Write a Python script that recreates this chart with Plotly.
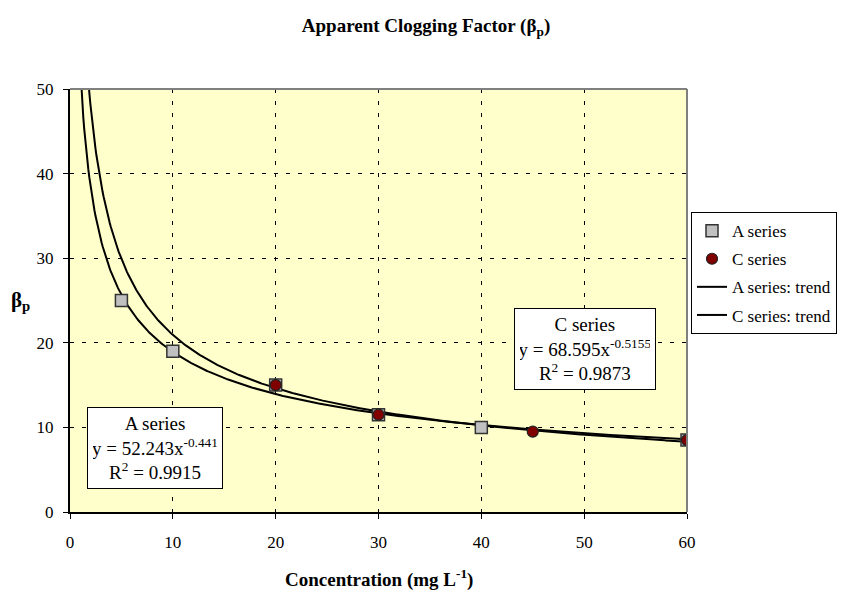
import numpy as np
import plotly.graph_objects as go

# Data
a_x = [5, 10, 20, 30, 40, 60]
a_y = [25.0, 19.0, 15.0, 11.5, 10.0, 8.5]
c_x = [20, 30, 45, 60]
c_y = [15.0, 11.5, 9.5, 8.5]
# Power trendline coefficients (y = k * x^p) as stated on the chart
a_k, a_p, a_r2 = 52.243, -0.441, 0.9915
c_k, c_p, c_r2 = 68.595, -0.5155, 0.9873

x_ticks = [0, 10, 20, 30, 40, 50, 60]
y_ticks = [0, 10, 20, 30, 40, 50]

FONT = "Liberation Serif, Times New Roman, serif"

xs = np.linspace(0.9, 60, 600)
a_trend = a_k * xs ** a_p
c_trend = c_k * xs ** c_p

fig = go.Figure()
fig.add_trace(go.Scatter(x=xs, y=a_trend, mode="lines", name="A series: trend",
                         line=dict(color="black", width=2), legendrank=3,
                         legendgroup="g3", hoverinfo="skip"))
fig.add_trace(go.Scatter(x=xs, y=c_trend, mode="lines", name="C series: trend",
                         line=dict(color="black", width=2), legendrank=4,
                         legendgroup="g4", hoverinfo="skip"))
fig.add_trace(go.Scatter(x=a_x, y=a_y, mode="markers", name="A series",
                         marker=dict(symbol="square", size=12, color="#C0C0C0",
                                     line=dict(color="#333333", width=1.5)),
                         legendrank=1, legendgroup="g1"))
fig.add_trace(go.Scatter(x=c_x, y=c_y, mode="markers", name="C series",
                         marker=dict(symbol="circle", size=11, color="#800000",
                                     line=dict(color="#222222", width=1.2)),
                         legendrank=2, legendgroup="g2"))

fig.update_layout(
    width=852, height=590,
    margin=dict(l=70, r=165, t=89, b=78),
    paper_bgcolor="white",
    plot_bgcolor="#FFFFCC",
    font=dict(family=FONT, size=17, color="black"),
    title=dict(text="<b>Apparent Clogging Factor (β<sub>p</sub>)</b>",
               x=0.5, xanchor="center", y=0.957, yanchor="middle",
               font=dict(family=FONT, size=19)),
    showlegend=True,
    legend=dict(x=1.0065, y=0.709, xanchor="left", yanchor="top",
                bgcolor="white", bordercolor="black", borderwidth=1,
                font=dict(family=FONT, size=17), tracegroupgap=3,
                itemwidth=30, entrywidth=112, entrywidthmode="pixels"),
    xaxis=dict(range=[0, 60], tickvals=x_ticks, ticks="outside", ticklen=5,
               tickcolor="black", showline=True, linecolor="black", linewidth=2,
               showgrid=True, gridcolor="black", gridwidth=1, griddash="4px,8px",
               zeroline=False, tickfont=dict(family=FONT, size=17),
               ticklabelstandoff=9),
    yaxis=dict(range=[0, 50], tickvals=y_ticks, ticks="outside", ticklen=5,
               tickcolor="black", showline=True, linecolor="black", linewidth=2,
               showgrid=True, gridcolor="black", gridwidth=1, griddash="4px,8px",
               zeroline=False, tickfont=dict(family=FONT, size=17),
               ticklabelstandoff=6),
)

# gray top/right frame
fig.add_shape(type="line", xref="paper", yref="paper", x0=0, x1=1, y0=1, y1=1,
              line=dict(color="#808080", width=2))
fig.add_shape(type="line", xref="paper", yref="paper", x0=1, x1=1, y0=0, y1=1,
              line=dict(color="#808080", width=2))

# axis titles
fig.add_annotation(text="<b>β<sub>p</sub></b>", xref="paper", yref="paper",
                   x=-0.08, y=0.50, xanchor="center", yanchor="middle",
                   showarrow=False, font=dict(family=FONT, size=21))
fig.add_annotation(text="<b>Concentration (mg L<sup>-1</sup>)</b>", xref="paper",
                   yref="paper", x=0.5, y=-0.158, xanchor="center", yanchor="middle",
                   showarrow=False, font=dict(family=FONT, size=19))

# trendline label boxes
fig.add_annotation(text=f"A series<br>y = {a_k}x<sup>{a_p}</sup><br>R<sup>2</sup> = {a_r2}",
                   xref="x", yref="y", x=8.3, y=7.6, xanchor="center", yanchor="middle",
                   showarrow=False,
                   bgcolor="white", bordercolor="black", borderwidth=1,
                   borderpad=5, align="center", width=124,
                   font=dict(family=FONT, size=19))
fig.add_annotation(text=f"C series<br>y = {c_k}x<sup>{c_p}</sup><br>R<sup>2</sup> = {c_r2}",
                   xref="x", yref="y", x=50.05, y=19.3, xanchor="center", yanchor="middle",
                   showarrow=False,
                   bgcolor="white", bordercolor="black", borderwidth=1,
                   borderpad=5, align="center", width=130,
                   font=dict(family=FONT, size=19))

fig.write_html("out.html")
